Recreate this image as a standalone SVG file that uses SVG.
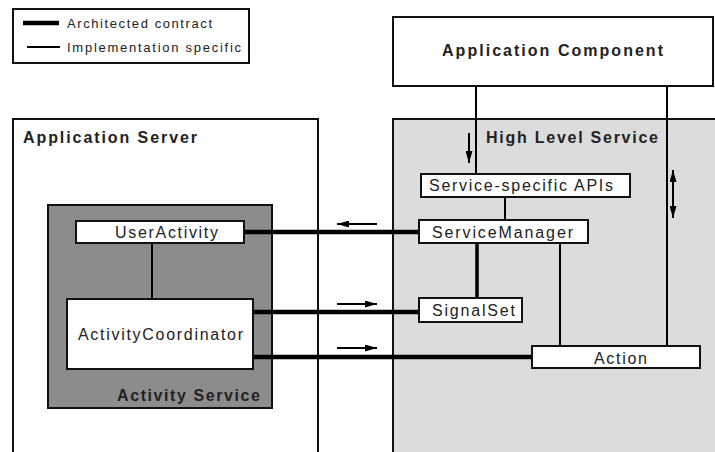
<svg xmlns="http://www.w3.org/2000/svg" width="715" height="452" viewBox="0 0 715 452">
<style>
.box{stroke:#111;stroke-width:2}
.w{fill:#fff}
.t{font-family:"Liberation Sans",Arial,sans-serif;font-size:16px;fill:#222}
.b{font-weight:bold}
.lg{font-size:13px}
.thick{stroke:#000;stroke-width:4.5;fill:none}
.thin{stroke:#000;stroke-width:2;fill:none}
.sm{stroke:#000;stroke-width:2;fill:none}
</style>
<defs>
<marker id="ah" viewBox="0 0 12 7" refX="12" refY="3.5" markerWidth="12" markerHeight="7" markerUnits="userSpaceOnUse" orient="auto-start-reverse">
<path d="M0,0 L12,3.5 L0,7 Z" fill="#000"/>
</marker>
</defs>
<rect width="715" height="452" fill="#fff"/>
<g id="legend">
<rect class="box" x="13" y="9" width="236" height="54" fill="#fff"/>
<line x1="23" y1="23" x2="59" y2="23" stroke="#000" stroke-width="4.5"/>
<line x1="27" y1="47" x2="60" y2="47" stroke="#000" stroke-width="2"/>
<text class="t lg" x="67" y="28" textLength="145" lengthAdjust="spacing">Architected contract</text>
<text class="t lg" x="67" y="52" textLength="174" lengthAdjust="spacing">Implementation specific</text>
</g>
<g id="application-server">
<rect class="box w" x="13" y="119" width="305" height="345"/>
<text class="t b" x="23" y="143" textLength="174" lengthAdjust="spacing">Application Server</text>
</g>
<g id="high-level-service">
<rect class="box" x="393" y="119" width="335" height="345" fill="#dcdcdc"/>
<text class="t b" x="486" y="143" textLength="172" lengthAdjust="spacing">High Level Service</text>
</g>
<g id="application-component">
<rect class="box w" x="393" y="17" width="320" height="69"/>
<text class="t b" x="442" y="56" textLength="221" lengthAdjust="spacing">Application Component</text>
</g>
<g id="activity-service">
<rect class="box" x="48" y="205" width="224" height="203" fill="#8c8c8c"/>
<text class="t b" x="117" y="401" textLength="143" lengthAdjust="spacing">Activity Service</text>
</g>
<g id="connectors">
<line class="thin" x1="476" y1="86" x2="476" y2="174"/>
<line class="thin" x1="667" y1="86" x2="667" y2="346"/>
<line class="thin" x1="505" y1="197" x2="505" y2="220"/>
<line x1="477" y1="243" x2="477" y2="298" stroke="#000" stroke-width="3.5"/>
<line class="thin" x1="560" y1="243" x2="560" y2="346"/>
<line class="thin" x1="152" y1="243" x2="152" y2="299"/>
<line class="thick" x1="244" y1="232" x2="419" y2="232"/>
<line class="thick" x1="253" y1="312" x2="419" y2="312"/>
<line class="thick" x1="253" y1="357" x2="532" y2="357"/>
<line class="sm" x1="469" y1="133" x2="469" y2="163" marker-end="url(#ah)"/>
<line class="sm" x1="673" y1="170" x2="673" y2="218" marker-start="url(#ah)" marker-end="url(#ah)"/>
<line class="sm" x1="377" y1="224" x2="337" y2="224" marker-end="url(#ah)"/>
<line class="sm" x1="337" y1="304" x2="377" y2="304" marker-end="url(#ah)"/>
<line class="sm" x1="337" y1="348" x2="377" y2="348" marker-end="url(#ah)"/>
</g>
<g id="service-specific-apis">
<rect class="box w" x="421" y="174" width="209" height="23"/>
<text class="t" x="429" y="191" textLength="184" lengthAdjust="spacing">Service-specific APIs</text>
</g>
<g id="service-manager">
<rect class="box w" x="419" y="220" width="169" height="23"/>
<text class="t" x="432" y="238" textLength="141" lengthAdjust="spacing">ServiceManager</text>
</g>
<g id="signal-set">
<rect class="box w" x="419" y="298" width="103" height="24"/>
<text class="t" x="432" y="316" textLength="83" lengthAdjust="spacing">SignalSet</text>
</g>
<g id="action">
<rect class="box w" x="532" y="346" width="168" height="22"/>
<text class="t" x="594" y="364" textLength="53" lengthAdjust="spacing">Action</text>
</g>
<g id="user-activity">
<rect class="box w" x="76" y="221" width="168" height="22"/>
<text class="t" x="115" y="238" textLength="103" lengthAdjust="spacing">UserActivity</text>
</g>
<g id="activity-coordinator">
<rect class="box w" x="67" y="299" width="186" height="70"/>
<text class="t" x="78" y="340" textLength="165" lengthAdjust="spacing">ActivityCoordinator</text>
</g>
</svg>
